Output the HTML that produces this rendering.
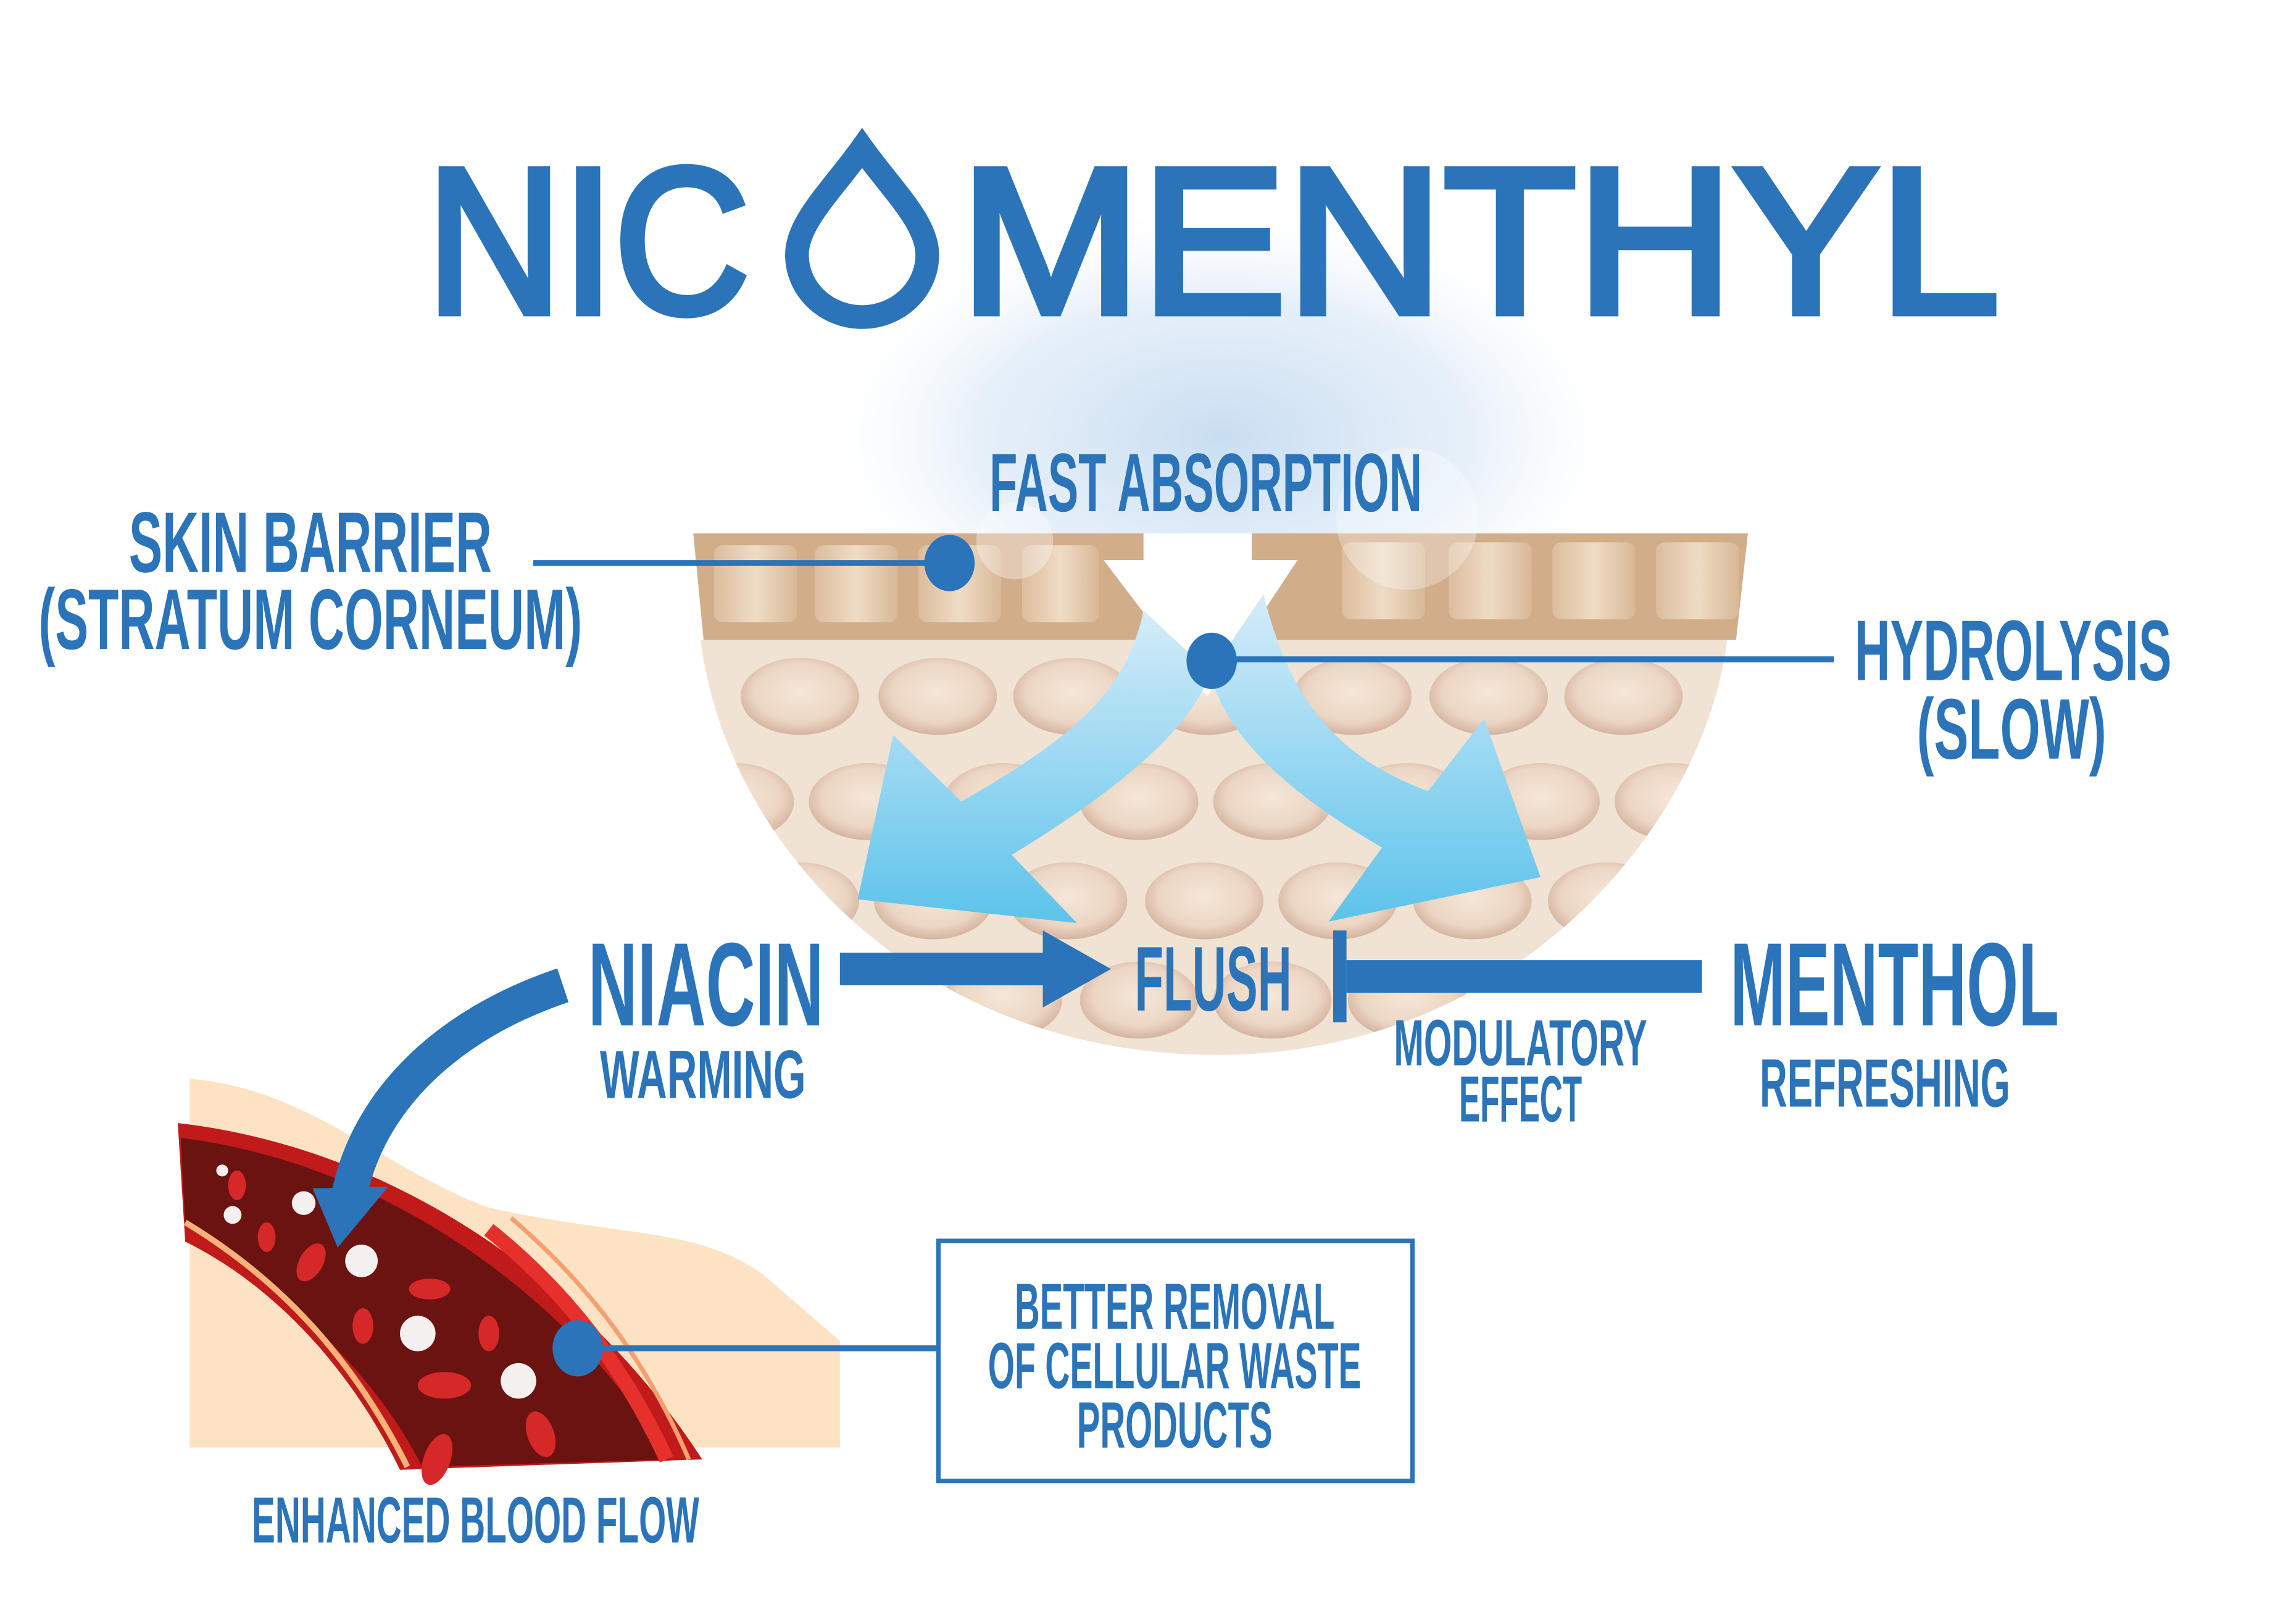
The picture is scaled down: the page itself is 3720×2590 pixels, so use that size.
<!DOCTYPE html>
<html><head><meta charset="utf-8"><style>
html,body{margin:0;padding:0;background:#fff;}
svg{display:block;}
.t{font-family:"Liberation Sans Narrow","Liberation Sans",sans-serif;font-weight:bold;fill:#2b74b9;}
</style></head><body>
<svg width="3720" height="2590" viewBox="0 0 1550 1079.2" xmlns="http://www.w3.org/2000/svg">
<defs>
<radialGradient id="glow" cx="0.5" cy="0.5" r="0.5">
<stop offset="0" stop-color="#c3daf0" stop-opacity="0.9"/>
<stop offset="0.6" stop-color="#dae8f6" stop-opacity="0.65"/>
<stop offset="1" stop-color="#ffffff" stop-opacity="0"/>
</radialGradient>
<linearGradient id="arr" x1="0" y1="0" x2="0" y2="1">
<stop offset="0" stop-color="#d6ecf9"/>
<stop offset="1" stop-color="#5cc3ea"/>
</linearGradient>
<radialGradient id="cell" cx="0.5" cy="0.45" r="0.55">
<stop offset="0" stop-color="#f5e7d9"/>
<stop offset="0.7" stop-color="#ecd6c3"/>
<stop offset="1" stop-color="#d4b4a0"/>
</radialGradient>
<linearGradient id="brick" x1="0" y1="0" x2="1" y2="0">
<stop offset="0" stop-color="#dcbd9c"/>
<stop offset="0.5" stop-color="#efdcc6"/>
<stop offset="1" stop-color="#d8b896"/>
</linearGradient>
<clipPath id="bowl"><path d="M473,432 L1166,432 C1150,560 1020,712 822,712 C620,712 490,570 473,432 Z"/></clipPath>
</defs>

<ellipse cx="825" cy="295" rx="280" ry="160" fill="url(#glow)"/>

<!-- title -->
<text x="288" y="211" style="font-family:'Liberation Sans',sans-serif;font-weight:normal;fill:#2b74b9;stroke:#2b74b9;stroke-width:5" font-size="140" textLength="218" lengthAdjust="spacingAndGlyphs">NIC</text>
<path d="M582,100 C562,128 538,150 538,172 A44,42 0 0 0 626,172 C626,150 602,128 582,100 Z" fill="none" stroke="#2b74b9" stroke-width="16" stroke-linejoin="miter"/>
<text x="648" y="211" style="font-family:'Liberation Sans',sans-serif;font-weight:normal;fill:#2b74b9;stroke:#2b74b9;stroke-width:5" font-size="140" textLength="702" lengthAdjust="spacingAndGlyphs">MENTHYL</text>

<!-- bowl -->
<path d="M473,432 L1166,432 C1150,560 1020,712 822,712 C620,712 490,570 473,432 Z" fill="#f1e3d4"/>
<g clip-path="url(#bowl)">
<g fill="url(#cell)">
<ellipse cx="540" cy="470" rx="40" ry="26"/><ellipse cx="633" cy="470" rx="40" ry="26"/><ellipse cx="724" cy="470" rx="40" ry="26"/><ellipse cx="815" cy="470" rx="40" ry="26"/><ellipse cx="913" cy="470" rx="40" ry="26"/><ellipse cx="1005" cy="470" rx="40" ry="26"/><ellipse cx="1096" cy="470" rx="40" ry="26"/>
<ellipse cx="496" cy="541" rx="40" ry="26"/><ellipse cx="586" cy="541" rx="40" ry="26"/><ellipse cx="677" cy="541" rx="40" ry="26"/><ellipse cx="769" cy="541" rx="40" ry="26"/><ellipse cx="859" cy="541" rx="40" ry="26"/><ellipse cx="950" cy="541" rx="40" ry="26"/><ellipse cx="1040" cy="541" rx="40" ry="26"/><ellipse cx="1130" cy="541" rx="40" ry="26"/>
<ellipse cx="540" cy="608" rx="40" ry="26"/><ellipse cx="630" cy="608" rx="40" ry="26"/><ellipse cx="721" cy="608" rx="40" ry="26"/><ellipse cx="813" cy="608" rx="40" ry="26"/><ellipse cx="903" cy="608" rx="40" ry="26"/><ellipse cx="994" cy="608" rx="40" ry="26"/><ellipse cx="1085" cy="608" rx="40" ry="26"/>
<ellipse cx="677" cy="675" rx="40" ry="26"/><ellipse cx="769" cy="675" rx="40" ry="26"/><ellipse cx="859" cy="675" rx="40" ry="26"/><ellipse cx="950" cy="675" rx="40" ry="26"/>
</g>
</g>
<path d="M468,360 L772,360 L772,378 L745,378 L815,445 L875,378 L845,378 L845,360 L1180,360 L1172,432 L475,432 Z" fill="#d2ad8a"/>
<g fill="url(#brick)">
<rect x="482" y="368" width="56" height="52" rx="6"/><rect x="550" y="368" width="56" height="52" rx="6"/><rect x="620" y="368" width="56" height="52" rx="6"/><rect x="690" y="368" width="52" height="52" rx="6"/>
<rect x="906" y="366" width="56" height="52" rx="6"/><rect x="978" y="366" width="56" height="52" rx="6"/><rect x="1048" y="366" width="56" height="52" rx="6"/><rect x="1118" y="366" width="56" height="52" rx="6"/>
</g>
<path d="M772,360 L845,360 L845,378 L876,378 L815,470 L745,378 L772,378 Z" fill="#ffffff"/>
<circle cx="685" cy="365" r="26" fill="#ffffff" opacity="0.35"/>
<circle cx="950" cy="350" r="48" fill="#ffffff" opacity="0.3"/>

<path d="M772,412 C760,470 720,500 649,541 L603,496 L579,607 L727,623 L683,577 C760,530 805,490 817,454 Z" fill="url(#arr)"/>
<path d="M853,401 C870,470 900,510 964,534 L1002,485 L1040,592 L897,622 L933,572 C860,530 825,490 817,454 Z" fill="url(#arr)"/>

<text class="t" x="87" y="386" font-size="58" textLength="245" lengthAdjust="spacingAndGlyphs">SKIN BARRIER</text>
<text class="t" x="26" y="438" font-size="58" textLength="367" lengthAdjust="spacingAndGlyphs">(STRATUM CORNEUM)</text>
<rect x="360" y="378" width="280" height="4" fill="#2b74b9"/>
<ellipse cx="641" cy="380" rx="17" ry="19" fill="#2b74b9"/>

<text class="t" x="668" y="345" font-size="56" textLength="292" lengthAdjust="spacingAndGlyphs">FAST ABSORPTION</text>

<rect x="818" y="443" width="420" height="4" fill="#2b74b9"/>
<ellipse cx="818" cy="446" rx="17" ry="19" fill="#2b74b9"/>
<text class="t" x="1252" y="459" font-size="58" textLength="214" lengthAdjust="spacingAndGlyphs">HYDROLYSIS</text>
<text class="t" x="1294" y="512" font-size="58" textLength="128" lengthAdjust="spacingAndGlyphs">(SLOW)</text>

<text class="t" x="397" y="692" font-size="80" textLength="159" lengthAdjust="spacingAndGlyphs">NIACIN</text>
<text class="t" x="405" y="741" font-size="46" textLength="139" lengthAdjust="spacingAndGlyphs">WARMING</text>
<rect x="567" y="643" width="140" height="22" fill="#2b74b9"/>
<path d="M704,628 L750,654 L704,680 Z" fill="#2b74b9"/>
<text class="t" x="766" y="682" font-size="62" textLength="106" lengthAdjust="spacingAndGlyphs">FLUSH</text>
<rect x="900" y="628" width="9" height="62" fill="#2b74b9"/>
<rect x="909" y="648" width="240" height="22" fill="#2b74b9"/>
<text class="t" x="1168" y="692" font-size="80" textLength="222" lengthAdjust="spacingAndGlyphs">MENTHOL</text>
<text class="t" x="1188" y="747" font-size="46" textLength="169" lengthAdjust="spacingAndGlyphs">REFRESHING</text>
<text class="t" x="941" y="719" font-size="44" textLength="171" lengthAdjust="spacingAndGlyphs">MODULATORY</text>
<text class="t" x="985" y="757" font-size="44" textLength="83" lengthAdjust="spacingAndGlyphs">EFFECT</text>

<path d="M128,728 C210,735 260,790 330,815 C420,835 470,828 515,860 L567,905 L567,977 L128,977 Z" fill="#fde3c4"/>
<path d="M120,758 C270,775 400,870 474,985 L270,992 C240,930 190,870 125,838 Z" fill="#c01a1a"/>
<path d="M122,768 C260,785 385,875 452,985 L285,990 C255,930 200,878 125,825 Z" fill="#6a1310"/>
<path d="M125,825 C200,870 245,930 275,990" fill="none" stroke="#f7b27a" stroke-width="4"/>
<path d="M330,830 C380,870 420,920 450,985" fill="none" stroke="#e5302b" stroke-width="10"/>
<path d="M345,822 C395,865 435,915 465,985" fill="none" stroke="#f4a070" stroke-width="3"/>
<g fill="#d62828">
<ellipse cx="210" cy="852" rx="8" ry="14" transform="rotate(30 210 852)"/>
<ellipse cx="290" cy="870" rx="14" ry="7"/>
<ellipse cx="300" cy="935" rx="18" ry="9"/>
<ellipse cx="365" cy="968" rx="9" ry="16" transform="rotate(-20 365 968)"/>
<ellipse cx="295" cy="985" rx="9" ry="18" transform="rotate(20 295 985)"/>
<ellipse cx="245" cy="895" rx="7" ry="12"/>
<ellipse cx="160" cy="800" rx="6" ry="10"/>
<ellipse cx="180" cy="835" rx="6" ry="10"/>
<ellipse cx="330" cy="900" rx="7" ry="12"/>
</g>
<g fill="#f4f0f0">
<circle cx="150" cy="790" r="4"/><circle cx="205" cy="812" r="8"/><circle cx="157" cy="820" r="6"/>
<circle cx="244" cy="851" r="11"/><circle cx="282" cy="900" r="12"/><circle cx="350" cy="932" r="12"/>
</g>
<path d="M380,665 C305,690 250,740 236,805" fill="none" stroke="#2b74b9" stroke-width="24"/>
<path d="M211,802 L262,801 L228,842 Z" fill="#2b74b9"/>

<rect x="390" y="908" width="242" height="4" fill="#2b74b9"/>
<ellipse cx="390" cy="910" rx="17" ry="19" fill="#2b74b9"/>
<rect x="633.5" y="837.5" width="320" height="162" fill="none" stroke="#2b74b9" stroke-width="3"/>
<text class="t" x="793" y="897" text-anchor="middle" font-size="44" textLength="216" lengthAdjust="spacingAndGlyphs">BETTER REMOVAL</text>
<text class="t" x="793" y="937" text-anchor="middle" font-size="44" textLength="252" lengthAdjust="spacingAndGlyphs">OF CELLULAR WASTE</text>
<text class="t" x="793" y="977" text-anchor="middle" font-size="44" textLength="132" lengthAdjust="spacingAndGlyphs">PRODUCTS</text>
<text class="t" x="170" y="1041" font-size="44" textLength="302" lengthAdjust="spacingAndGlyphs">ENHANCED BLOOD FLOW</text>
</svg>
</body></html>
